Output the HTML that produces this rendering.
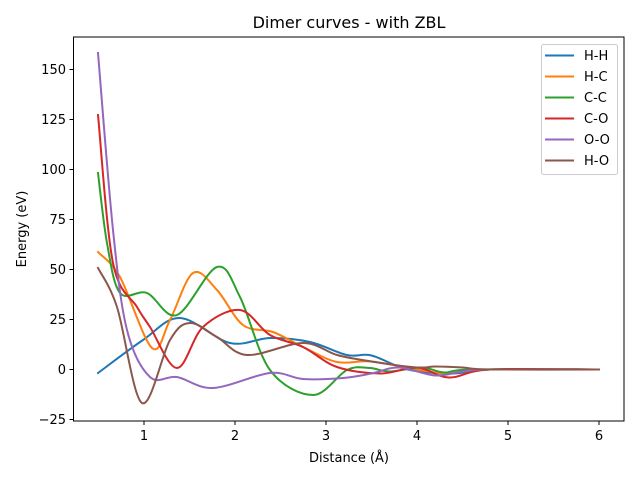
<!DOCTYPE html>
<html><head><meta charset="utf-8"><style>
html,body{margin:0;padding:0;background:#fff;width:640px;height:480px;overflow:hidden}
text{font-family:"DejaVu Sans","Liberation Sans",sans-serif;fill:#000}
</style></head><body>
<svg id="s" width="640" height="480" xmlns="http://www.w3.org/2000/svg">
<rect width="640" height="480" fill="#fff"/>
<text x="349" y="28" font-size="16" text-anchor="middle">Dimer curves - with ZBL</text>
<g id="curves" fill="none" stroke-width="2" stroke-linejoin="round" stroke-linecap="square"></g>
<rect x="73.5" y="37" width="550.5" height="384" fill="none" stroke="#000" stroke-width="1"/>
<g stroke="#000" stroke-width="1">
<line x1="144" y1="421" x2="144" y2="425"/><line x1="235" y1="421" x2="235" y2="425"/><line x1="326" y1="421" x2="326" y2="425"/><line x1="417" y1="421" x2="417" y2="425"/><line x1="508" y1="421" x2="508" y2="425"/><line x1="599" y1="421" x2="599" y2="425"/>
<line x1="69.5" y1="69.5" x2="73.5" y2="69.5"/><line x1="69.5" y1="119.5" x2="73.5" y2="119.5"/><line x1="69.5" y1="169.5" x2="73.5" y2="169.5"/><line x1="69.5" y1="219.5" x2="73.5" y2="219.5"/><line x1="69.5" y1="269.5" x2="73.5" y2="269.5"/><line x1="69.5" y1="319.5" x2="73.5" y2="319.5"/><line x1="69.5" y1="369.5" x2="73.5" y2="369.5"/><line x1="69.5" y1="419.5" x2="73.5" y2="419.5"/>
</g>
<g font-size="13" text-anchor="middle">
<text x="144" y="440">1</text><text x="235" y="440">2</text><text x="326" y="440">3</text><text x="417" y="440">4</text><text x="508" y="440">5</text><text x="599" y="440">6</text>
<text x="349" y="462">Distance (Å)</text>
</g>
<g font-size="13" text-anchor="end">
<text x="66" y="74">150</text><text x="66" y="124">125</text><text x="66" y="174">100</text><text x="66" y="224">75</text><text x="66" y="274">50</text><text x="66" y="324">25</text><text x="66" y="374">0</text><text x="66" y="424">−25</text>
</g>
<text transform="translate(26,229) rotate(-90)" font-size="13" text-anchor="middle">Energy (eV)</text>
<rect x="541.5" y="44.5" width="76" height="130" rx="2" fill="#fff" fill-opacity="0.8" stroke="#ccc"/>
<g stroke-width="2">
<line x1="545" y1="55.5" x2="574" y2="55.5" stroke="#1f77b4"/>
<line x1="545" y1="76.5" x2="574" y2="76.5" stroke="#ff7f0e"/>
<line x1="545" y1="97.5" x2="574" y2="97.5" stroke="#2ca02c"/>
<line x1="545" y1="118.5" x2="574" y2="118.5" stroke="#d62728"/>
<line x1="545" y1="139.5" x2="574" y2="139.5" stroke="#9467bd"/>
<line x1="545" y1="160.5" x2="574" y2="160.5" stroke="#8c564b"/>
</g>
<g font-size="13">
<text x="584" y="60">H-H</text><text x="584" y="81">H-C</text><text x="584" y="102">C-C</text><text x="584" y="123">C-O</text><text x="584" y="144">O-O</text><text x="584" y="165">H-O</text>
</g>
</svg>
<script>
function X(d){return 53+91*d}
function Y(v){return 369.5-2*v}
var tail=function(a){return a.map(function(p){return [X(p[0]),Y(p[1])]})};
var series=[
["#1f77b4",[[98,373],[143,340],[180,318],[230,343],[270,338],[310,342],[347,355]].concat(tail([[3.5,7],[3.9,0],[4.4,-2],[4.8,0],[6,0]]))],
["#ff7f0e",[[98,252],[120,277],[152,348],[170,320],[193,273],[217,290],[243,325],[273,332],[303,347],[337,362]].concat(tail([[3.5,4],[4.0,0],[4.3,-2],[4.5,-1],[4.8,0],[6,0]]))],
["#2ca02c",[[98,173],[107,243],[120,293],[147,293],[177,315],[217,267],[240,297],[270,370],[313,395],[347,370],[370,368]].concat(tail([[3.7,-1],[4.05,1],[4.3,-1.5],[4.6,0],[6,0]]))],
["#d62728",[[98,115],[113,263],[137,307],[150,327],[177,368],[203,327],[240,310],[270,335],[303,347],[337,367]].concat(tail([[3.6,-2],[4.0,1],[4.35,-4],[4.8,0],[6,0]]))],
["#9467bd",[[98,53],[113,230],[127,330],[150,377],[177,377],[213,388],[270,373],[303,379],[343,378]].concat(tail([[3.5,-2],[3.8,1],[4.2,-3],[4.5,-1],[4.8,0],[6,0]]))],
["#8c564b",[[98,268],[117,307],[142,403],[170,340],[190,323],[217,337],[247,355],[303,343],[337,355]].concat(tail([[3.5,4],[4.0,1],[4.2,1.5],[4.5,1],[4.8,0],[6,0]]))]
];
var g=document.getElementById("curves");
series.forEach(function(s){
 var p=s[1],d="M"+p[0][0]+","+p[0][1];
 for(var i=0;i<p.length-1;i++){
  var p0=p[i-1]||p[i],p1=p[i],p2=p[i+1],p3=p[i+2]||p2;
  var c1=[p1[0]+(p2[0]-p0[0])/6,p1[1]+(p2[1]-p0[1])/6];
  var c2=[p2[0]-(p3[0]-p1[0])/6,p2[1]-(p3[1]-p1[1])/6];
  d+="C"+c1[0]+","+c1[1]+" "+c2[0]+","+c2[1]+" "+p2[0]+","+p2[1];
 }
 var e=document.createElementNS("http://www.w3.org/2000/svg","path");
 e.setAttribute("d",d);e.setAttribute("stroke",s[0]);g.appendChild(e);
});
</script>
</body></html>
